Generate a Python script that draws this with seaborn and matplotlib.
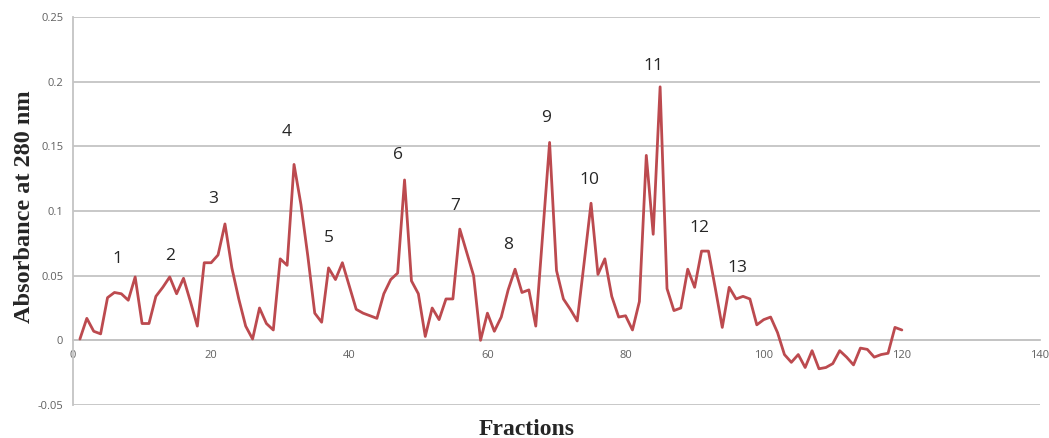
import matplotlib
matplotlib.use("Agg")
import matplotlib.pyplot as plt
import seaborn as sns
import pandas as pd

fractions = list(range(1, 121))
absorbance = [
    0.001, 0.017, 0.007, 0.005, 0.033, 0.037, 0.036, 0.031, 0.049, 0.013,
    0.013, 0.034, 0.041, 0.049, 0.036, 0.048, 0.030, 0.011, 0.060, 0.060,
    0.066, 0.090, 0.056, 0.032, 0.011, 0.001, 0.025, 0.013, 0.008, 0.063,
    0.058, 0.136, 0.105, 0.065, 0.021, 0.014, 0.056, 0.047, 0.060, 0.042,
    0.024, 0.021, 0.019, 0.017, 0.036, 0.047, 0.052, 0.124, 0.046, 0.036,
    0.003, 0.025, 0.016, 0.032, 0.032, 0.086, 0.068, 0.050, 0.000, 0.021,
    0.007, 0.018, 0.039, 0.055, 0.037, 0.039, 0.011, 0.082, 0.153, 0.054,
    0.032, 0.024, 0.015, 0.060, 0.106, 0.051, 0.063, 0.034, 0.018, 0.019,
    0.008, 0.030, 0.143, 0.082, 0.196, 0.040, 0.023, 0.025, 0.055, 0.041,
    0.069, 0.069, 0.040, 0.010, 0.041, 0.032, 0.034, 0.032, 0.012, 0.016,
    0.018, 0.006, -0.011, -0.017, -0.011, -0.021, -0.008, -0.022, -0.021, -0.018,
    -0.008, -0.013, -0.019, -0.006, -0.007, -0.013, -0.011, -0.010, 0.010, 0.008,
]

peak_labels = ["1", "2", "3", "4", "5", "6", "7", "8", "9", "10", "11", "12", "13"]
peak_label_x = [6.5, 14.0, 20.3, 31.0, 37.1, 47.0, 55.4, 63.0, 68.5, 74.8, 84.0, 90.7, 96.2]
peak_label_y = [0.0626, 0.065, 0.109, 0.161, 0.079, 0.143, 0.104, 0.074, 0.172, 0.124, 0.212, 0.087, 0.056]

x_ticks = [0, 20, 40, 60, 80, 100, 120, 140]
y_ticks = [-0.05, 0, 0.05, 0.1, 0.15, 0.2, 0.25]
y_tick_labels = ["-0.05", "0", "0.05", "0.1", "0.15", "0.2", "0.25"]

df = pd.DataFrame({"Fraction": fractions, "Absorbance": absorbance})

sns.set_style("white")
plt.rcParams["font.family"] = ["Open Sans", "DejaVu Sans"]

fig = plt.figure(figsize=(10.49, 4.38), dpi=100)
ax = fig.add_axes([73 / 1049, 1 - 405 / 438, (1040 - 73) / 1049, (405 - 17) / 438])

grid_color = "#c4c4c4"
sns.lineplot(data=df, x="Fraction", y="Absorbance", ax=ax, color="#bc4a4f",
             linewidth=2.0, zorder=3)

ax.set_xlim(0, 140)
ax.set_ylim(-0.05, 0.25)
ax.set_xticks(x_ticks)
ax.set_xticklabels([str(t) for t in x_ticks])
ax.set_yticks(y_ticks)
ax.set_yticklabels(y_tick_labels)
ax.yaxis.grid(True, color=grid_color, linewidth=1.3)
ax.xaxis.grid(False)

for side in ["top", "right"]:
    ax.spines[side].set_visible(False)
ax.spines["bottom"].set_position(("data", 0))
ax.spines["bottom"].set_color(grid_color)
ax.spines["bottom"].set_linewidth(1.3)
ax.spines["left"].set_color(grid_color)
ax.spines["left"].set_linewidth(1.3)

ax.tick_params(axis="both", length=0, labelsize=8, labelcolor="#606060")
ax.tick_params(axis="x", pad=7)
ax.tick_params(axis="y", pad=7)

ax.set_xlabel("")
ax.set_ylabel("")

for lab, lx, ly in zip(peak_labels, peak_label_x, peak_label_y):
    ax.text(lx, ly, lab, ha="center", va="center", fontsize=12.5, color="#262626")

fig.text(527 / 1049, 3 / 438, "Fractions", ha="center", va="baseline",
         fontsize=17, fontweight="bold", family=["Liberation Serif", "DejaVu Serif"])
fig.text(25 / 1049, 1 - 207 / 438, "Absorbance at 280 nm", ha="center", va="center",
         rotation=90, fontsize=17.5, fontweight="bold",
         family=["Liberation Serif", "DejaVu Serif"])

fig.savefig("out.png", dpi=100)
